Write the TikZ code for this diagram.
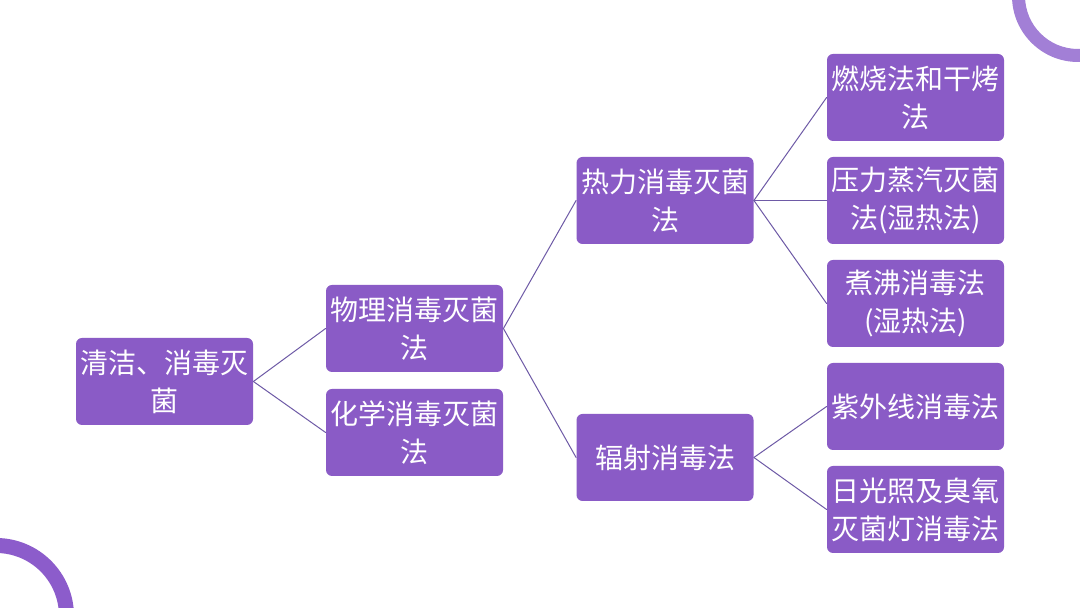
\documentclass[tikz,border=0pt]{standalone}
\usepackage{fontspec}
\setmainfont{Noto Sans CJK SC}
\definecolor{boxpurple}{HTML}{8A5BC6}
\definecolor{linkpurple}{HTML}{6E5AA6}
\definecolor{ringpurple}{HTML}{A27FD6}
\definecolor{ringdark}{HTML}{8C5CCB}
\tikzset{
  methodbox/.style={draw=none, fill=boxpurple, rounded corners=3pt,
    minimum width=88.5pt, minimum height=43.5pt, inner sep=0pt,
    align=center, text=white, font=\fontsize{14pt}{19pt}\selectfont},
  link/.style={draw=linkpurple, line width=0.5pt}
}
\begin{document}
\begin{tikzpicture}[x=0.5pt, y=0.5pt, line cap=round, line join=round]

% -----------------------
% Page frame
% -----------------------
\useasboundingbox (0,0) rectangle (1080,608);
\fill[white] (0,0) rectangle (1080,608);

% -----------------------
% Corner rings
% -----------------------
\begin{scope}
  \clip (0,0) rectangle (1080,608);
  \fill[ringpurple, even odd rule] (1078,612) circle (66) (1078,612) circle (53);
  \fill[ringdark, even odd rule] (-4,-8) circle (78) (-4,-8) circle (63);
\end{scope}

% -----------------------
% Level 1 and 2
% -----------------------
\node[methodbox] (clean) at (164.5,226.5) {清洁、消毒灭\\菌};
\node[methodbox] (phys)  at (414.5,279.5) {物理消毒灭菌\\法};
\node[methodbox] (chem)  at (414.5,175.5) {化学消毒灭菌\\法};

% -----------------------
% Level 3
% -----------------------
\node[methodbox] (heat) at (665,407.5) {热力消毒灭菌\\法};
\node[methodbox] (rad)  at (665,150.5) {辐射消毒法};

% -----------------------
% Level 4
% -----------------------
\node[methodbox] (burn)  at (915.5,510.5) {燃烧法和干烤\\法};
\node[methodbox] (steam) at (915.5,407.5) {压力蒸汽灭菌\\法(湿热法)};
\node[methodbox] (boil)  at (915.5,304.5) {煮沸消毒法\\(湿热法)};
\node[methodbox] (uv)    at (915.5,201.5) {紫外线消毒法};
\node[methodbox] (ozone) at (915.5,98.5)  {日光照及臭氧\\灭菌灯消毒法};

% -----------------------
% Connectors
% -----------------------
\foreach \p/\c in {clean/phys, clean/chem, phys/heat, phys/rad,
                   heat/burn, heat/steam, heat/boil, rad/uv, rad/ozone}{
  \draw[link] (\p.east) -- (\c.west);
}

\end{tikzpicture}
\end{document}
